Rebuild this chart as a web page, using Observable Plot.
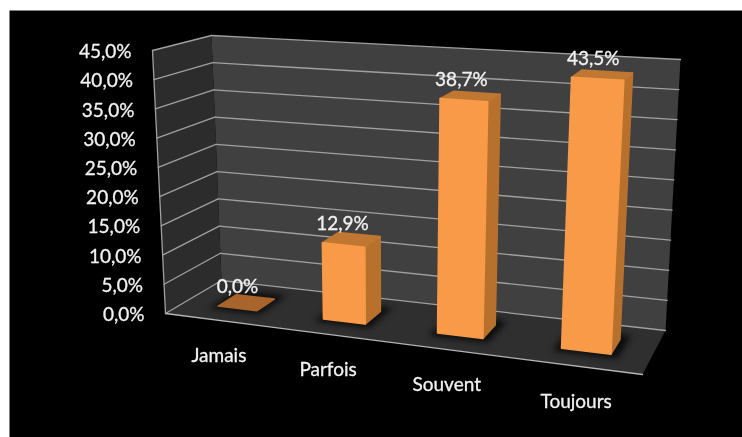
<!DOCTYPE html>
<html><head><meta charset="utf-8">
<script src="https://cdn.jsdelivr.net/npm/d3@7"></script>
<script src="https://cdn.jsdelivr.net/npm/@observablehq/plot@0.6"></script>
<style>html,body{margin:0;padding:0;background:#fff}svg{display:block}</style>
</head><body><div id="chart"></div>
<script>
const categories = ["Jamais", "Parfois", "Souvent", "Toujours"];
const values = [0, 12.9, 38.7, 43.5];
const valueLabels = ["0,0%", "12,9%", "38,7%", "43,5%"];
const ticks = [0, 5, 10, 15, 20, 25, 30, 35, 40, 45];
const tickLabels = ["0,0%", "5,0%", "10,0%", "15,0%", "20,0%", "25,0%", "30,0%", "35,0%", "40,0%", "45,0%"];
const maxValue = 45;

// Picture frame and perspective box of the chart, as seen on the page
const W = 742, H = 437;
const backdrop = [[9, 10], [W, 10], [W, H], [9, H]];
const floorCorners = [[165, 313], [642, 374], [665, 330], [221, 280]];
const ceilCorners = [[152, 50], [658, 81], [680, 59], [211, 35]];

function homography([p0, p1, p2, p3]) {
  const dx1 = p1[0] - p2[0], dx2 = p3[0] - p2[0], sx = p0[0] - p1[0] + p2[0] - p3[0];
  const dy1 = p1[1] - p2[1], dy2 = p3[1] - p2[1], sy = p0[1] - p1[1] + p2[1] - p3[1];
  const den = dx1 * dy2 - dx2 * dy1;
  const g = (sx * dy2 - dx2 * sy) / den, h = (dx1 * sy - sx * dy1) / den;
  const a = p1[0] - p0[0] + g * p1[0], b = p3[0] - p0[0] + h * p3[0];
  const d = p1[1] - p0[1] + g * p1[1], e = p3[1] - p0[1] + h * p3[1];
  return (u, v) => {
    const q = g * u + h * v + 1;
    return [(a * u + b * v + p0[0]) / q, (d * u + e * v + p0[1]) / q];
  };
}
const onFloor = homography(floorCorners);
const rise = floorCorners.map((f, i) => [ceilCorners[i][0] - f[0], ceilCorners[i][1] - f[1]]);
const mix = (a, b, t) => a + (b - a) * t;
// u: along the categories, v: depth (0 front, 1 back), val: data value
function P(u, v, val) {
  const f = onFloor(u, v), t = val / maxValue;
  const s = (onFloor(u, 0)[0] - floorCorners[0][0]) / (floorCorners[1][0] - floorCorners[0][0]);
  const up = [0, 1].map(k => mix(mix(rise[0][k], rise[1][k], s), mix(rise[3][k], rise[2][k], s), v));
  return [f[0] + up[0] * t, f[1] + up[1] * t];
}

const X = d => d[0], Y = d => d[1];
const poly = (pts, fill, o = {}) => Plot.line(pts, {x: X, y: Y, curve: "linear-closed", fill, stroke: "none", ...o});
const seg = (a, b, stroke, strokeWidth = 1.3) => Plot.line([a, b], {x: X, y: Y, stroke, strokeWidth});

const GRID = "#a0a0a0", FRONT = "#f89a48", SIDE = "#b8712d", TOP = "#bf7732", FLAT = "#a9642c";
const halfWidth = 0.047, shift = 0.005, v0 = 0.33, v1 = 0.67;
const centre = i => (i + 0.5) / categories.length + shift;
const labelFont = {fontFamily: "Lato", fill: "#f2f2f2", stroke: "#f2f2f2", strokeWidth: 0.3};

const marks = [
  poly(backdrop, "#000"),
  poly([P(0, 1, 0), P(1, 1, 0), P(1, 1, maxValue), P(0, 1, maxValue)], "#404040"),
  poly([P(0, 0, 0), P(0, 1, 0), P(0, 1, maxValue), P(0, 0, maxValue)], "#2c2c2c"),
  poly([P(0, 0, 0), P(1, 0, 0), P(1, 1, 0), P(0, 1, 0)], "#2f2f2f")
];
for (const t of ticks) {
  marks.push(seg(P(0, 1, t), P(1, 1, t), GRID), seg(P(0, 0, t), P(0, 1, t), GRID));
}
marks.push(
  seg(P(0, 0, 0), P(0, 0, maxValue), GRID),
  seg(P(0, 0, 0), P(1, 0, 0), "#b5b5b5")
);

categories.forEach((c, i) => {
  const u = centre(i), a = u - halfWidth, b = u + halfWidth, val = values[i];
  marks.push(poly([P(a - .012, v0 - .08, 0), P(b + .016, v0 - .08, 0), P(b + .016, v1 + .12, 0), P(a - .012, v1 + .12, 0)],
    "#0c0c0c", {imageFilter: "blur(3px)"}));
  if (val === 0) {
    marks.push(poly([P(a, v0, 0), P(b, v0, 0), P(b, v1, 0), P(a, v1, 0)], FLAT, {stroke: FLAT, strokeWidth: 1.5, strokeLinejoin: "round"}));
  } else {
    marks.push(
      poly([P(b, v0, 0), P(b, v1, 0), P(b, v1, val), P(b, v0, val)], SIDE, {stroke: SIDE, strokeWidth: 1.5, strokeLinejoin: "round"}),
      poly([P(a, v0, val), P(b, v0, val), P(b, v1, val), P(a, v1, val)], TOP, {stroke: TOP, strokeWidth: 1.5, strokeLinejoin: "round"}),
      poly([P(a, v0, 0), P(b, v0, 0), P(b, v0, val), P(a, v0, val)], FRONT, {stroke: FRONT, strokeWidth: 1.5, strokeLinejoin: "round"})
    );
  }
});

marks.push(
  Plot.text(ticks, {x: t => P(0, 0, t)[0], y: t => P(0, 0, t)[1], text: (t, i) => tickLabels[i],
    textAnchor: "end", dx: -21, dy: 1.5, fontSize: 19, ...labelFont}),
  Plot.text(categories, {x: (c, i) => P(centre(i), 0, 0)[0], y: (c, i) => P(centre(i), 0, 0)[1],
    text: c => c, dx: 0, dy: 35.5, fontSize: 19, ...labelFont}),
  Plot.text(categories, {x: (c, i) => P(centre(i), .5, values[i])[0], y: (c, i) => P(centre(i), .5, values[i])[1],
    text: (c, i) => valueLabels[i], dx: -9, dy: -16, fontSize: 19, ...labelFont})
);

const chart = Plot.plot({
  width: W, height: H, margin: 0,
  style: {background: "#fff", filter: "blur(0.45px)"},
  x: {domain: [0, W], range: [0, W], axis: null},
  y: {domain: [0, H], range: [0, H], axis: null},
  marks
});
document.getElementById("chart").append(chart);
</script></body></html>
